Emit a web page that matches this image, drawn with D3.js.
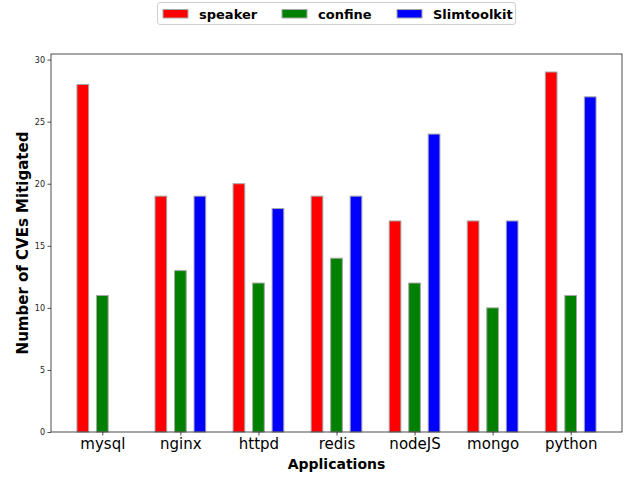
<!DOCTYPE html>
<html>
<head>
<meta charset="utf-8">
<script src="https://cdn.jsdelivr.net/npm/d3@7"></script>
<style>
  body { margin: 0; background: #fff; }
  svg { display: block; font-family: "DejaVu Sans", sans-serif; }
</style>
</head>
<body>
<div id="chart"></div>
<script>
// data
const apps = ['mysql', 'nginx', 'httpd', 'redis', 'nodeJS', 'mongo', 'python'];
const seriesNames = ['speaker', 'confine', 'Slimtoolkit'];
const seriesColors = ['#ff0000', '#008000', '#0000ff'];
const speaker = [28, 19, 20, 19, 17, 17, 29];
const confine = [11, 13, 12, 14, 12, 10, 11];
const slimtoolkit = [0, 19, 18, 19, 24, 17, 27];
const yTicks = [0, 5, 10, 15, 20, 25, 30];

const series = [speaker, confine, slimtoolkit];

const width = 629;
const height = 477;
const margin = {top: 54, right: 7, bottom: 45, left: 51};

const barW = 0.15;   // bar width in category units
const step = 0.25;   // offset between grouped bars

const svg = d3.select('#chart')
    .append('svg')
    .attr('width', width)
    .attr('height', height);

// x runs on category index, like matplotlib's autoscale with 5% margins
const xMin = -barW / 2, xMax = apps.length - 1 + 2 * step + barW / 2;
const pad = (xMax - xMin) * 0.05;
const x = d3.scaleLinear()
    .domain([xMin - pad, xMax + pad])
    .range([margin.left, width - margin.right]);

const yTop = d3.max(series.flat()) * 1.05;
const y = d3.scaleLinear()
    .domain([0, yTop])
    .range([height - margin.bottom, margin.top]);

// bars
series.forEach((vals, s) => {
  svg.append('g')
      .selectAll('rect')
      .data(vals)
      .join('rect')
      .attr('x', (d, i) => x(i + s * step - barW / 2))
      .attr('y', d => y(d))
      .attr('width', x(barW) - x(0))
      .attr('height', d => y(0) - y(d))
      .attr('fill', seriesColors[s])
      .attr('stroke', '#a8a8a8')
      .attr('stroke-width', 1);
});

// y axis
const yAxis = svg.append('g')
    .attr('transform', `translate(${margin.left},0)`)
    .attr('font-family', 'DejaVu Sans')
    .call(d3.axisLeft(y).tickValues(yTicks).tickSize(3.5).tickPadding(2.5));
yAxis.attr('font-family', 'DejaVu Sans');
yAxis.selectAll('text').style('font-size', '8px').attr('fill', '#222');

// x axis
const xAxis = svg.append('g')
    .attr('transform', `translate(0,${height - margin.bottom})`)
    .call(d3.axisBottom(x)
        .tickValues(apps.map((d, i) => i + step))
        .tickFormat((d, i) => apps[i])
        .tickSize(3.5).tickPadding(3));
xAxis.attr('font-family', 'DejaVu Sans');
xAxis.selectAll('text').style('font-size', '15px').attr('fill', '#000');

svg.selectAll('.domain').remove();
svg.selectAll('.tick line').attr('stroke', '#222').attr('stroke-width', 0.8);

// frame
svg.append('rect')
    .attr('x', margin.left)
    .attr('y', margin.top)
    .attr('width', width - margin.left - margin.right)
    .attr('height', height - margin.top - margin.bottom)
    .attr('fill', 'none')
    .attr('stroke', '#222')
    .attr('stroke-width', 0.8);

// axis titles
svg.append('text')
    .attr('x', (margin.left + width - margin.right) / 2)
    .attr('y', 469)
    .attr('text-anchor', 'middle')
    .style('font-size', '14px')
    .style('font-weight', 'bold')
    .text('Applications');

svg.append('text')
    .attr('transform', `translate(28,${(margin.top + height - margin.bottom) / 2}) rotate(-90)`)
    .attr('text-anchor', 'middle')
    .style('font-size', '15px')
    .style('font-weight', 'bold')
    .text('Number of CVEs Mitigated');

// legend
const legend = svg.append('g');
legend.append('rect')
    .attr('x', 157.5)
    .attr('y', 2.5)
    .attr('width', 358)
    .attr('height', 22)
    .attr('rx', 2.5)
    .attr('fill', '#fff')
    .attr('stroke', '#d0d0d0');

const legendX = [163, 282, 397];
seriesNames.forEach((name, s) => {
  legend.append('rect')
      .attr('x', legendX[s])
      .attr('y', 9.5)
      .attr('width', 25)
      .attr('height', 8.5)
      .attr('fill', seriesColors[s])
      .attr('stroke', '#a8a8a8');
  legend.append('text')
      .attr('x', legendX[s] + 36)
      .attr('y', 18.5)
      .style('font-size', '13px')
      .style('font-weight', 'bold')
      .text(name);
});
</script>
</body>
</html>
